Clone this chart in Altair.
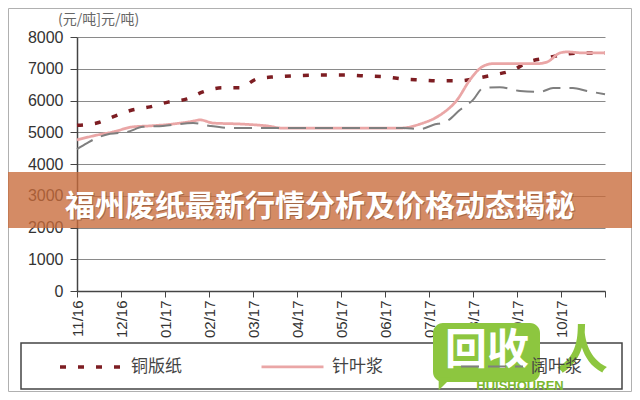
import altair as alt
import pandas as pd

months = ["11/16", "12/16", "01/17", "02/17", "03/17", "04/17", "05/17",
          "06/17", "07/17", "08/17", "09/17", "10/17", ""]
series_names = ["铜版纸", "针叶浆", "阔叶浆"]
series_colors = ["#7d1d22", "#eaa6a6", "#7f7f7f"]

coated_t = [0, 0.45, 0.86, 1.25, 1.66, 2.07, 2.5, 2.86, 3.3, 3.7, 4.09, 4.45,
            5.68, 6.14, 6.59, 7.05, 7.41, 7.8, 8.25, 8.7, 9.09, 9.45, 9.91,
            10.25, 10.68, 11.09, 11.5, 12]
coated_v = [5220, 5290, 5510, 5700, 5800, 5950, 6050, 6270, 6400, 6400, 6680,
            6740, 6800, 6800, 6770, 6740, 6680, 6650, 6620, 6620, 6700, 6800,
            6960, 7210, 7340, 7460, 7500, 7500]

soft_t = [0, 0.45, 0.82, 1.27, 1.66, 2.18, 2.64, 2.8, 3.09, 3.7, 4.32, 4.68,
          5.52, 7.34, 7.8, 8.25, 8.64, 8.93, 9.23, 9.45, 10.45, 10.68, 10.98,
          11.14, 11.5, 12]
soft_v = [4760, 4910, 5010, 5170, 5200, 5260, 5350, 5390, 5290, 5260, 5200,
          5130, 5130, 5130, 5260, 5540, 6020, 6650, 7080, 7160, 7160, 7210,
          7500, 7530, 7500, 7500]

hard_t = [0, 0.23, 0.45, 0.75, 1.14, 1.5, 1.95, 2.64, 3.02, 3.55, 4.32, 4.84,
          5.52, 7.41, 7.8, 8.09, 8.41, 8.7, 9.0, 9.23, 9.61, 10.07, 10.52,
          10.82, 11.27, 11.59, 12]
hard_v = [4470, 4660, 4820, 4950, 5010, 5170, 5200, 5290, 5200, 5130, 5130,
          5130, 5130, 5130, 5100, 5230, 5350, 5700, 6020, 6390, 6420, 6300,
          6270, 6390, 6390, 6300, 6200]

y_ticks = [0, 1000, 2000, 3000, 4000, 5000, 6000, 7000, 8000]

rows = []
for name, ts, vs in zip(series_names, [coated_t, soft_t, hard_t], [coated_v, soft_v, hard_v]):
    for t, v in zip(ts, vs):
        rows.append({"series": name, "t": t, "price": v})
df = pd.DataFrame(rows)

label_expr = "[" + ",".join("'%s'" % m for m in months) + "][datum.value]"

lines = alt.Chart(df).mark_line(interpolate="monotone").encode(
    x=alt.X("t:Q", scale=alt.Scale(domain=[0, 12], nice=False, zero=False),
            axis=alt.Axis(values=list(range(13)), labelExpr=label_expr, labelAngle=270,
                          labelAlign="right", labelBaseline="middle", title=None, grid=False,
                          tickSize=6, labelPadding=3, labelFontSize=15,
                          labelFont="Liberation Sans", labelColor="#333",
                          domainColor="#444", tickColor="#444", domainWidth=1.5)),
    y=alt.Y("price:Q", scale=alt.Scale(domain=[0, 8000], nice=False),
            axis=alt.Axis(values=y_ticks, format="d", title=None, grid=True,
                          gridColor="#8a8a8a", gridWidth=1, tickSize=7, labelPadding=7,
                          labelFontSize=16, labelFont="Liberation Sans", labelColor="#333",
                          domainColor="#444", tickColor="#444", domainWidth=1.5)),
    color=alt.Color("series:N", scale=alt.Scale(domain=series_names, range=series_colors),
                    legend=alt.Legend(title=None)),
    strokeDash=alt.StrokeDash("series:N",
                              scale=alt.Scale(domain=series_names, range=[[6, 12], [1, 0], [18, 9]]),
                              legend=alt.Legend(title=None)),
    strokeWidth=alt.StrokeWidth("series:N",
                                scale=alt.Scale(domain=series_names, range=[3.5, 2, 3]),
                                legend=alt.Legend(title=None)),
)

dummy = pd.DataFrame({"d": [0]})

def rect(x, x2, y, y2, **kw):
    return alt.Chart(dummy).mark_rect(**kw).encode(
        x=alt.value(x), x2=alt.value(x2), y=alt.value(y), y2=alt.value(y2))

def text(x, y, s, **kw):
    return alt.Chart(dummy).mark_text(text=s, **kw).encode(x=alt.value(x), y=alt.value(y))

border = rect(-68.5, 554.5, -28.5, 354.5, fill=None, stroke="#b0b0b0", strokeWidth=1)
unit = text(-19, -17, "(元/吨]元/吨)", align="left", baseline="middle",
            font="Noto Sans CJK SC", fontSize=14, color="#666")
legend_box = rect(-56, 545, 306, 352, fill=None, stroke="#444", strokeWidth=1.5)
banner = rect(-69, 555, 135, 191, fill="#c86a3a", opacity=0.78)
banner_shadow = text(244, 171, "福州废纸最新行情分析及价格动态揭秘", align="center",
                     baseline="middle", font="Noto Sans CJK SC", fontSize=30,
                     fontWeight="bold", color="#6b3a20", opacity=0.45)
banner_text = text(243, 170, "福州废纸最新行情分析及价格动态揭秘", align="center",
                   baseline="middle", font="Noto Sans CJK SC", fontSize=30,
                   fontWeight="bold", color="#ffffff")
wm_box = rect(356, 463, 286, 345, fill="#8dc63f", cornerRadius=10)
wm_tail = alt.Chart(dummy).mark_point(shape="M-1,-1L1,-1L-1,1Z", filled=True, size=160,
                                      color="#8dc63f", opacity=1).encode(
    x=alt.value(368), y=alt.value(347))
wm_text = text(410, 314, "回收", align="center", baseline="middle",
               font="Noto Sans CJK SC", fontSize=42, fontWeight="bold", color="#ffffff")
wm_ren = text(505, 315, "人", align="center", baseline="middle",
              font="Noto Sans CJK SC", fontSize=52, fontWeight="bold", color="#8dc63f")
wm_pin = text(443, 349, "HUISHOUREN", align="center", baseline="middle",
              font="Liberation Sans", fontSize=13, fontWeight="bold", color="#7cb82f")

chart = alt.layer(
    border, lines, unit, legend_box, banner, banner_shadow, banner_text,
    wm_box, wm_tail, wm_text, wm_ren, wm_pin
).properties(
    width=528, height=254,
    autosize=alt.AutoSizeParams(type="none"),
    padding={"left": 69, "top": 29, "right": 27, "bottom": 101},
    background="#ffffff",
).configure_view(stroke=None).configure_legend(
    orient="none", legendX=-19, legendY=297, direction="horizontal",
    symbolType="stroke", symbolSize=3844, labelOffset=7, columnPadding=74,
    padding=0, labelFont="Noto Sans CJK SC", labelFontSize=17, labelColor="#444",
    labelLimit=200, zindex=0,
)

chart.save("out.html", embed_options={"renderer": "svg", "actions": False})
